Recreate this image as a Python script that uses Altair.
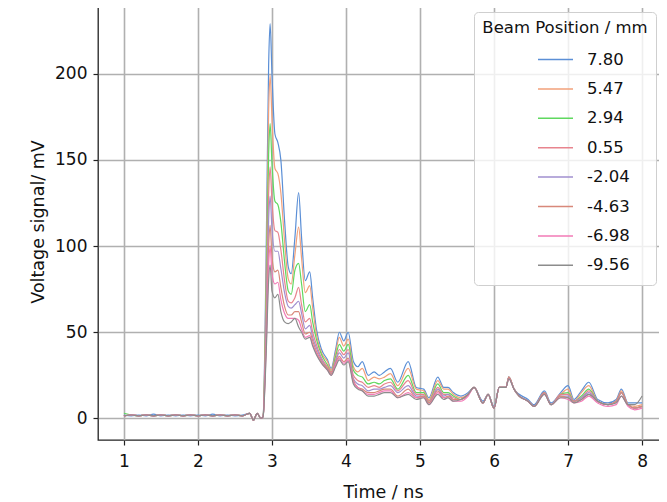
import altair as alt
import pandas as pd

# Time axis (ns)
time_ns = [
    1.0, 1.1, 1.2, 1.3, 1.4, 1.5, 1.6, 1.7, 1.8, 1.9,
    2.0, 2.1, 2.2, 2.3, 2.4, 2.5, 2.6, 2.7, 2.75, 2.8,
    2.85, 2.88, 2.92, 2.955, 2.975, 3.0, 3.04, 3.08, 3.12, 3.17,
    3.22, 3.26, 3.31, 3.36, 3.40, 3.45, 3.51, 3.55, 3.6, 3.67,
    3.75, 3.8, 3.86, 3.91, 3.97, 4.03, 4.1, 4.16, 4.22, 4.3,
    4.38, 4.45, 4.52, 4.6, 4.7, 4.84, 4.95, 5.05, 5.12, 5.24,
    5.32, 5.38, 5.45, 5.55, 5.65, 5.73, 5.85, 5.92, 6.0, 6.07,
    6.16, 6.2, 6.27, 6.34, 6.46, 6.54, 6.68, 6.77, 6.9, 7.0,
    7.08, 7.18, 7.28, 7.4, 7.54, 7.65, 7.72, 7.81, 7.9, 8.0,
]

positions = ["7.80", "5.47", "2.94", "0.55", "-2.04", "-4.63", "-6.98", "-9.56"]
colors = ["#5b8fd6", "#f2a07a", "#5fd85f", "#e8848e", "#a08fcf", "#d8887a", "#f27ab6", "#8c8c8c"]

v_780 = [
    2, 1.5, 2, 1.5, 2.5, 1.5, 2, 1.5, 2, 1.5,
    2, 1.5, 2.5, 1.5, 2, 1.5, 2, 3, -1, 3,
    0, 1, 90, 205, 229, 200, 165, 160, 150, 115,
    88, 84, 105, 131, 105, 80, 85, 70, 52, 40,
    34, 29, 40, 50, 45, 50, 33, 30, 33, 25,
    27, 25, 27, 29, 21, 33, 18, 17, 12, 24,
    18, 18, 15, 13, 15, 18, 10, 14, 7, 18,
    18, 24, 17, 14, 11, 8, 16, 9, 15, 19,
    11, 16, 21, 11, 9, 11, 17, 9, 9, 9,
]
v_547 = [
    1.5, 2, 1.5, 2, 1.5, 2, 1.5, 2, 1.5, 2,
    1.5, 2, 1.5, 2, 1.5, 2, 1.5, 3, -1, 3,
    0, 1, 78, 178, 199, 174, 145, 142, 131, 103,
    81, 78, 95, 111, 93, 73, 77, 64, 49, 38,
    33, 28, 38, 47, 42, 46, 30, 27, 29, 22,
    24, 23, 24, 26, 19, 29, 17, 16, 11, 22,
    17, 17, 14, 12, 14, 18, 9, 14, 6, 18,
    18, 24, 17, 13, 10, 7, 15, 8, 14, 17,
    10, 15, 19, 10, 8, 10, 16, 8, 7, 8,
]
v_294 = [
    3, 2, 1.5, 2, 1.5, 2, 1.5, 2, 1.5, 2,
    1.5, 2, 1.5, 2, 1.5, 2, 1.5, 3, -1, 3,
    0, 1, 67, 153, 171, 148, 126, 124, 114, 91,
    74, 72, 86, 90, 78, 62, 66, 56, 46, 37,
    31, 27, 36, 43, 39, 43, 28, 25, 24, 20,
    21, 20, 22, 23, 17, 25, 15, 15, 10, 20,
    15, 15, 13, 11, 14, 18, 9, 14, 6, 18,
    18, 24, 17, 13, 10, 7, 15, 8, 14, 15,
    10, 13, 17, 10, 8, 10, 15, 8, 6, 7,
]
v_055 = [
    1.5, 2, 1.5, 2, 1.5, 2, 1.5, 2, 1.5, 2,
    1.5, 2, 1.5, 2, 1.5, 2, 1.5, 3, -1, 3,
    0, 1, 57, 130, 146, 126, 109, 108, 98, 80,
    68, 67, 70, 76, 66, 56, 58, 50, 43, 35,
    30, 27, 34, 40, 37, 40, 25, 22, 21, 18,
    19, 18, 20, 21, 16, 22, 14, 14, 10, 18,
    14, 14, 12, 11, 14, 18, 9, 14, 6, 18,
    18, 24, 17, 13, 10, 7, 15, 8, 14, 14,
    10, 12, 16, 10, 8, 10, 15, 8, 6, 7,
]
v_m204 = [
    1.5, 2, 1.5, 2, 1.5, 2, 1.5, 2, 1.5, 2,
    1.5, 2, 1.5, 2, 1.5, 2, 1.5, 3, -1, 3,
    0, 1, 50, 115, 129, 110, 97, 97, 87, 73,
    65, 64, 66, 68, 61, 52, 54, 47, 41, 34,
    29, 26, 33, 38, 35, 38, 23, 20, 19, 16,
    17, 17, 18, 19, 15, 19, 13, 13, 9, 17,
    13, 14, 11, 11, 14, 18, 9, 14, 6, 18,
    18, 24, 17, 13, 10, 7, 15, 8, 13, 13,
    10, 12, 15, 10, 8, 10, 15, 8, 6, 7,
]
v_m463 = [
    1.5, 2, 1.5, 2, 1.5, 2, 1.5, 2, 1.5, 2,
    1.5, 2, 1.5, 2, 1.5, 2, 1.5, 3, -1, 3,
    0, 1, 44, 100, 112, 94, 85, 86, 76, 65,
    60, 60, 62, 62, 56, 49, 50, 45, 39, 33,
    29, 26, 32, 36, 33, 35, 22, 18, 17, 15,
    15, 16, 17, 17, 13, 17, 12, 13, 9, 16,
    12, 13, 11, 11, 14, 18, 9, 14, 6, 18,
    18, 24, 17, 13, 10, 7, 15, 8, 13, 12,
    10, 11, 14, 10, 8, 10, 15, 8, 6, 7,
]
v_m698 = [
    1.5, 2, 1.5, 2, 1.5, 2, 1.5, 2, 1.5, 2,
    1.5, 2, 1.5, 2, 1.5, 2, 1.5, 3, -1, 3,
    0, 1, 39, 89, 100, 84, 78, 79, 69, 61,
    58, 58, 58, 57, 52, 47, 48, 43, 38, 32,
    28, 25, 31, 35, 32, 34, 21, 18, 16, 14,
    14, 15, 16, 16, 12, 15, 12, 12, 8, 15,
    12, 12, 10, 10, 13, 18, 9, 14, 6, 18,
    18, 23, 17, 13, 10, 7, 14, 8, 12, 11,
    9, 10, 13, 9, 7, 8, 13, 7, 5, 6,
]
v_m956 = [
    1.5, 2, 1.5, 2, 1.5, 2, 1.5, 2, 1.5, 2,
    1.5, 2, 1.5, 2, 1.5, 2, 1.5, 3, -1, 3,
    0, 1, 35, 80, 89, 74, 70, 72, 62, 56,
    55, 56, 58, 53, 50, 46, 47, 42, 37, 32,
    28, 25, 30, 34, 31, 33, 20, 17, 16, 13,
    13, 14, 15, 15, 12, 14, 11, 12, 8, 14,
    11, 12, 10, 11, 14, 18, 9, 14, 6, 18,
    18, 23, 17, 13, 10, 7, 14, 8, 12, 12,
    9, 11, 14, 10, 8, 9, 13, 8, 8, 13,
]

series = [v_780, v_547, v_294, v_055, v_m204, v_m463, v_m698, v_m956]

rows = []
for order, (pos, vals) in enumerate(zip(positions, series)):
    assert len(vals) == len(time_ns), (pos, len(vals))
    for t, v in zip(time_ns, vals):
        rows.append({"time": t, "voltage": v, "pos": pos, "order": order})
df = pd.DataFrame(rows)

FONT = "DejaVu Sans"

chart = (
    alt.Chart(df)
    .mark_line(strokeWidth=1.2, interpolate="monotone")
    .encode(
        x=alt.X(
            "time:Q",
            scale=alt.Scale(domain=[0.65, 8.35], nice=False, zero=False),
            axis=alt.Axis(values=[1, 2, 3, 4, 5, 6, 7, 8], title="Time / ns",
                          titlePadding=14, labelPadding=8),
        ),
        y=alt.Y(
            "voltage:Q",
            scale=alt.Scale(domain=[-12.5, 241], nice=False, zero=False),
            axis=alt.Axis(values=[0, 50, 100, 150, 200], title="Voltage signal/ mV",
                          titlePadding=7, labelPadding=6),
        ),
        color=alt.Color(
            "pos:N",
            sort=positions,
            scale=alt.Scale(domain=positions, range=colors),
            legend=alt.Legend(
                title="Beam Position / mm",
                orient="none",
                legendX=376,
                legendY=9,
                symbolType="stroke",
                symbolSize=1225,
                symbolStrokeWidth=1.5,
                symbolOffset=37,
                labelOffset=13,
                labelAlign="left",
                clipHeight=22,
                rowPadding=7.4,
                labelFontSize=16.5,
                labelFont=FONT,
                labelColor="#111111",
                titleFontSize=16.5,
                titleFont=FONT,
                titleFontWeight="normal",
                titleColor="#111111",
                titleAnchor="middle",
                titlePadding=12,
                padding=8,
                fillColor="rgba(255,255,255,0.8)",
                strokeColor="#cfcfcf",
                cornerRadius=4,
            ),
        ),
        detail="pos:N",
        order="order:Q",
    )
    .properties(
        width=570,
        height=437,
        autosize=alt.AutoSizeParams(type="none"),
        padding={"left": 90, "top": -5, "right": -9, "bottom": 70},
    )
    .configure_view(stroke="#222222", strokeWidth=1.3)
    .configure_axis(
        labelFont=FONT,
        titleFont=FONT,
        labelFontSize=17,
        titleFontSize=17.5,
        titleFontWeight="normal",
        labelColor="#111111",
        titleColor="#111111",
        domain=False,
        tickColor="#222222",
        tickSize=5,
        tickWidth=1.2,
        grid=True,
        gridColor="#b0b0b0",
        gridWidth=1.6,
    )
)

chart.save("out.html", embed_options={"renderer": "svg", "actions": False})
